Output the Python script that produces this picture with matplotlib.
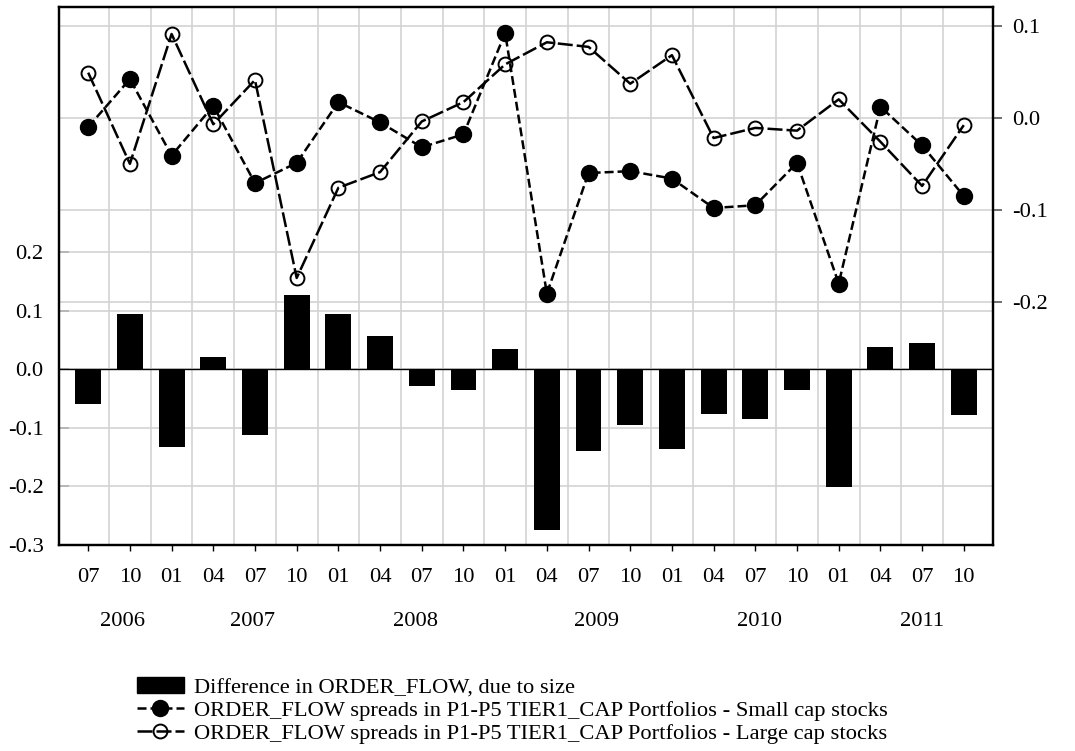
import matplotlib.pyplot as plt
from matplotlib.patches import Patch
from matplotlib.lines import Line2D

plt.rcParams["font.family"] = ["Liberation Serif", "DejaVu Serif"]
plt.rcParams["font.size"] = 16.2

months = ["07", "10", "01", "04", "07", "10", "01", "04", "07", "10", "01",
          "04", "07", "10", "01", "04", "07", "10", "01", "04", "07", "10"]
years = ["2006", "2007", "2008", "2009", "2010", "2011"]
year_pos = [0.83, 3.93, 7.86, 12.2, 16.1, 20.0]

diff = [-0.059, 0.094, -0.133, 0.021, -0.113, 0.127, 0.095, 0.056, -0.029, -0.036, 0.035,
        -0.275, -0.139, -0.095, -0.136, -0.076, -0.085, -0.036, -0.201, 0.038, 0.045, -0.078]
small_cap = [-0.010, 0.042, -0.041, 0.013, -0.071, -0.049, 0.017, -0.005, -0.032, -0.018, 0.092,
             -0.191, -0.060, -0.058, -0.066, -0.098, -0.095, -0.049, -0.180, 0.012, -0.030, -0.085]
large_cap = [0.049, -0.050, 0.091, -0.007, 0.041, -0.174, -0.076, -0.059, -0.004, 0.017, 0.058,
             0.082, 0.077, 0.037, 0.068, -0.022, -0.011, -0.014, 0.020, -0.026, -0.074, -0.008]

left_ticks = [-0.3, -0.2, -0.1, 0.0, 0.1, 0.2]
right_ticks = [-0.2, -0.1, 0.0, 0.1]
L_LIM = (-0.3, 0.618)
R_LIM = (-0.464, 0.120)
GRID = "#d3d3d3"
LW = 1.8
SMALL_DASH = (3.6, 1.6)
LARGE_DASH = (6.0, 1.6)

x = list(range(len(months)))

fig = plt.figure(figsize=(10.75, 7.51), dpi=100)
ax1 = fig.add_axes([0.0549, 0.2743, 0.8688, 0.716])
ax2 = ax1.twinx()

# grid: vertical between categories, horizontal at both axes' ticks (all on ax1, behind bars)
for i in range(len(months) - 1):
    ax1.axvline(i + 0.5, color=GRID, lw=1.2, zorder=0)
for v in left_ticks[1:]:
    ax1.axhline(v, color=GRID, lw=1.2, zorder=0)
for v in right_ticks:
    yl = L_LIM[0] + (v - R_LIM[0]) / (R_LIM[1] - R_LIM[0]) * (L_LIM[1] - L_LIM[0])
    ax1.axhline(yl, color=GRID, lw=1.2, zorder=0)

ax1.bar(x, diff, width=0.62, color="black", zorder=2)
ax1.axhline(0, color="black", lw=1.0, zorder=3)

ax2.plot(x, small_cap, color="black", lw=LW, dashes=SMALL_DASH,
         marker="o", ms=11.5, mfc="black", mec="black")
ax2.plot(x, large_cap, color="black", lw=LW, dashes=LARGE_DASH,
         marker="o", ms=10, mfc="none", mec="black", mew=1.4)

ax1.set_xlim(-0.7, 21.7)
ax1.set_ylim(*L_LIM)
ax2.set_ylim(*R_LIM)

ax1.set_yticks(left_ticks)
ax1.set_yticklabels([f"{v:.1f}" for v in left_ticks])
ax1.tick_params(axis="y", direction="in", length=7, color="#b0b0b0", width=1.2, pad=11)
ax2.set_yticks(right_ticks)
ax2.set_yticklabels([f"{v:.1f}" for v in right_ticks])
ax2.tick_params(axis="y", direction="out", length=6.5, color="#555555", width=1.2, pad=7)

ax1.set_xticks(x)
ax1.set_xticklabels(months)
ax1.tick_params(axis="x", direction="out", length=4.5, width=1.0, pad=12)
ax1.set_xticks([i for i, m in enumerate(months) if m == "01"], minor=True)
ax1.tick_params(axis="x", which="minor", direction="out", length=8.5, width=1.0)

for yr, p in zip(years, year_pos):
    ax1.text(p, -0.143, yr, transform=ax1.get_xaxis_transform(), ha="center", va="center")

for ax in (ax1, ax2):
    for s in ax.spines.values():
        s.set_linewidth(1.6)

handles = [
    Patch(facecolor="black", edgecolor="black"),
    Line2D([], [], color="black", lw=LW, dashes=SMALL_DASH, marker="o", ms=11.5, mfc="black"),
    Line2D([], [], color="black", lw=LW, dashes=LARGE_DASH, marker="o", ms=10, mfc="none", mew=1.4),
]
labels = [
    "Difference in ORDER_FLOW, due to size",
    "ORDER_FLOW spreads in P1-P5 TIER1_CAP Portfolios - Small cap stocks",
    "ORDER_FLOW spreads in P1-P5 TIER1_CAP Portfolios - Large cap stocks",
]
fig.legend(handles, labels, loc="upper left", bbox_to_anchor=(0.127, 0.098),
           frameon=False, handlelength=2.1, handletextpad=0.45, labelspacing=0.1,
           borderaxespad=0, borderpad=0)

fig.savefig("out.png", dpi=100)
